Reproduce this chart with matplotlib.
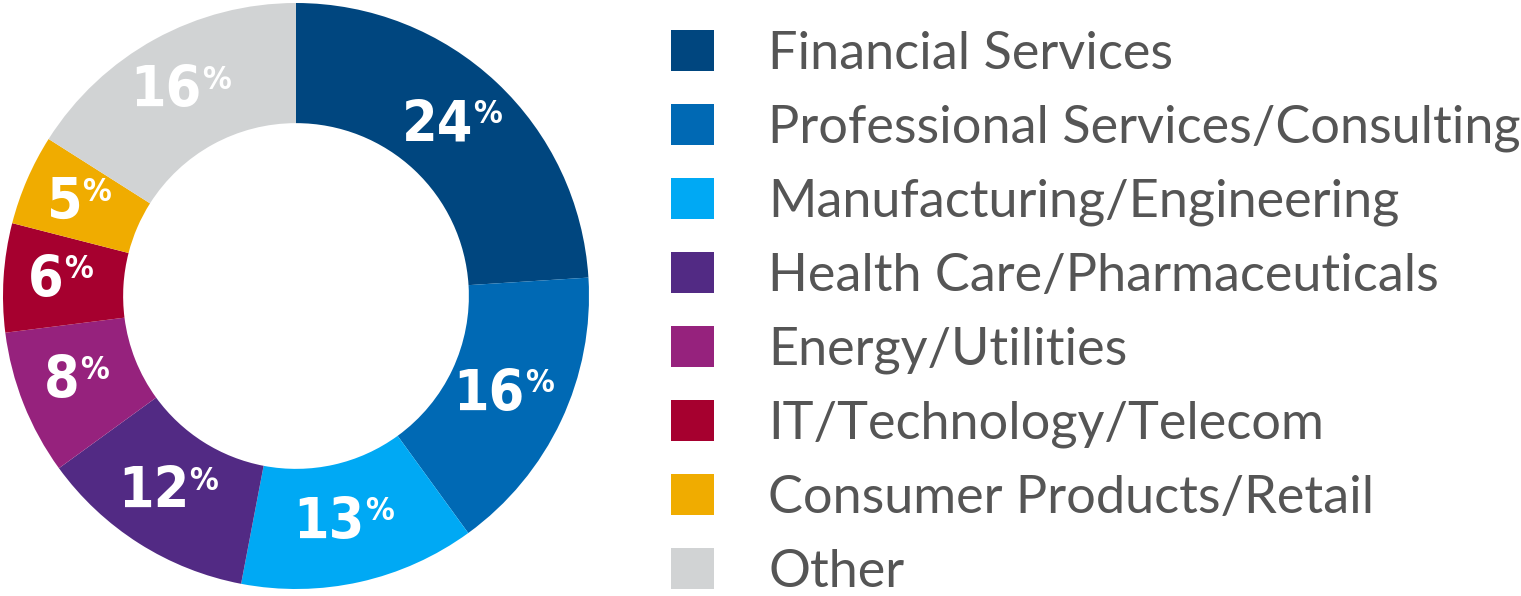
import numpy as np
import matplotlib.pyplot as plt
from matplotlib import font_manager

categories = ["Financial Services", "Professional Services/Consulting",
              "Manufacturing/Engineering", "Health Care/Pharmaceuticals",
              "Energy/Utilities", "IT/Technology/Telecom",
              "Consumer Products/Retail", "Other"]
shares = [24, 16, 13, 12, 8, 6, 5, 16]
colors = ["#00467f", "#0069b4", "#00a9f4", "#522a84",
          "#96227d", "#a6002f", "#f0ac00", "#d1d3d4"]

W, H = 1521, 596
fig = plt.figure(figsize=(W / 100, H / 100), dpi=100)

# donut: centre (296, 296) px from top-left, outer radius 293 px
cx, cy, R = 296, 296, 293
ax = fig.add_axes([(cx - R) / W, (H - cy - R) / H, 2 * R / W, 2 * R / H])
wedges, _ = ax.pie(shares, colors=colors, startangle=90, counterclock=False,
                   radius=1, wedgeprops=dict(width=0.41, linewidth=0))
ax.set_xlim(-1, 1)
ax.set_ylim(-1, 1)
ax.set_aspect("equal")
ax.axis("off")

# condensed bold face for the numbers if we have one
cond = [f.fname for f in font_manager.fontManager.ttflist
        if "Condensed" in f.fname and "Bold" in f.fname and "Oblique" not in f.fname]
num_prop = dict(fname=cond[0]) if cond else dict(family="DejaVu Sans", weight="bold")
num_font = font_manager.FontProperties(**num_prop)

for w, v in zip(wedges, shares):
    th = np.deg2rad((w.theta1 + w.theta2) / 2)
    r = 0.795
    x, y = r * np.cos(th), r * np.sin(th)
    t = ax.text(x - 0.06, y, str(v), ha="center", va="center", color="white",
                fontproperties=num_font, fontsize=41)
    ax.annotate("%", xy=(1.0, 0.99), xycoords=t, ha="left", va="top",
                color="white", fontproperties=num_font, fontsize=23)

leg = fig.legend(wedges, categories, loc="upper left",
                 bbox_to_anchor=(671 / W, 1 - 30 / H), frameon=False,
                 prop=dict(family=["Lato", "DejaVu Sans"], size=37.6),
                 handlelength=0.83, handleheight=0.83, handletextpad=1.03,
                 labelspacing=0.5, borderpad=0, borderaxespad=0)
for txt in leg.get_texts():
    txt.set_color("#555555")

fig.savefig("out.png", dpi=100)
